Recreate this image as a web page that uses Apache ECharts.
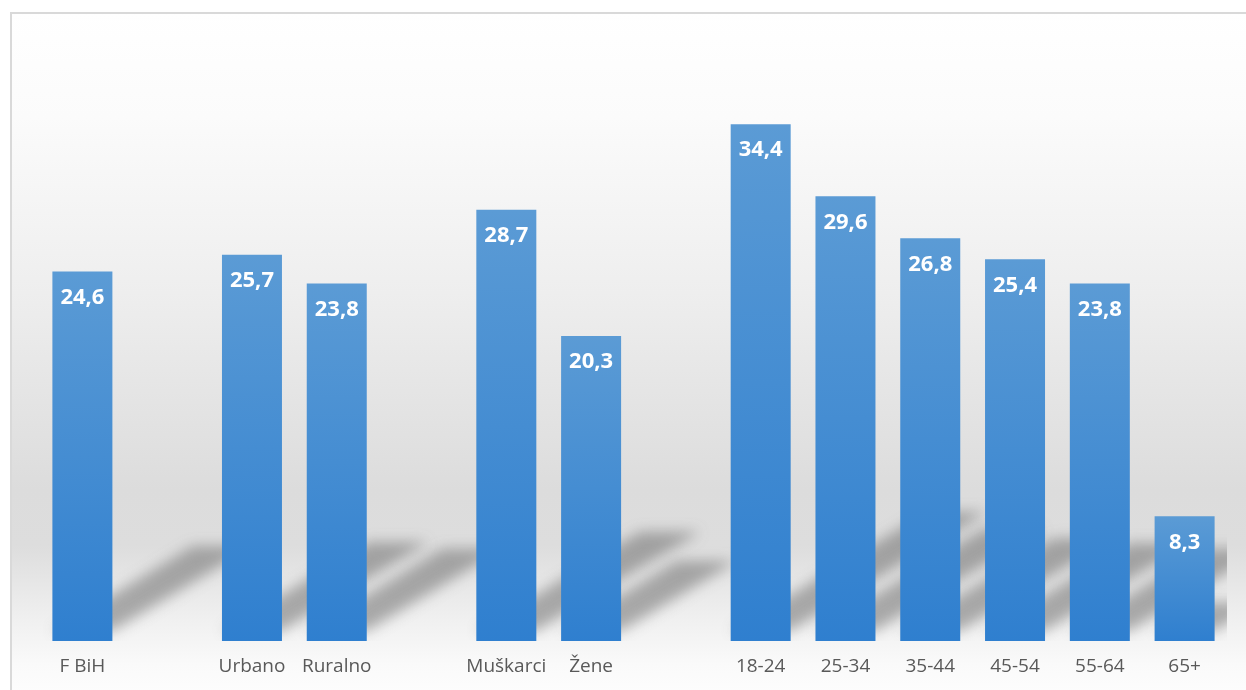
<!DOCTYPE html>
<html>
<head>
<meta charset="utf-8">
<script src="https://cdn.jsdelivr.net/npm/echarts@6/dist/echarts.min.js"></script>
<style>
html,body{margin:0;padding:0;background:#fff;}
#chart{width:1246px;height:690px;}
</style>
</head>
<body>
<div id="chart"></div>
<script>
const categories = ['F BiH', '', 'Urbano', 'Ruralno', '', 'Muškarci', 'Žene', '', '18-24', '25-34', '35-44', '45-54', '55-64', '65+'];
const values = [24.6, '-', 25.7, 23.8, '-', 28.7, 20.3, '-', 34.4, 29.6, 26.8, 25.4, 23.8, 8.3];

const chart = echarts.init(document.getElementById('chart'), null, {renderer: 'canvas'});

const shadowData = values.map((v, i) => v === '-' ? null : [i, v]).filter(d => d);
const OFF = 3000;

const option = {
  animation: false,
  graphic: [
    {
      type: 'rect', left: 10, top: 12, z: -10,
      shape: {width: 1250, height: 700},
      style: {
        fill: new echarts.graphic.LinearGradient(0, 0, 0, 1, [
          {offset: 0, color: '#ffffff'},
          {offset: 0.15, color: '#fbfbfb'},
          {offset: 0.4, color: '#eeeeee'},
          {offset: 0.68, color: '#dcdcdc'},
          {offset: 0.76, color: '#dddddd'},
          {offset: 0.86, color: '#efefef'},
          {offset: 0.93, color: '#fafafa'},
          {offset: 1, color: '#ffffff'}
        ]),
        stroke: '#d9d9d9', lineWidth: 2
      }
    }
  ],
  grid: {left: 40, right: 19, top: 40, bottom: 49, containLabel: false},
  xAxis: {
    type: 'category',
    data: categories,
    axisLine: {show: false},
    axisTick: {show: false},
    axisLabel: {
      interval: 0, margin: 16, color: '#595959',
      fontFamily: 'Open Sans', fontSize: 19
    }
  },
  yAxis: {
    type: 'value', min: 0, max: 40,
    show: false,
    splitLine: {show: false}
  },
  series: [
    {
      type: 'custom',
      clip: true,
      z: 1,
      silent: true,
      data: shadowData,
      renderItem: function (params, api) {
        const base = api.coord([api.value(0), 0]);
        const top = api.coord([api.value(0), api.value(1)]);
        const h = base[1] - top[1];
        const x0 = base[0] - 30 - OFF, x1 = base[0] + 30 - OFF;
        const dx = 0.38 * h, dy = 0.23 * h;
        const y0 = base[1] - 10;
        return {
          type: 'polygon',
          shape: {points: [[x0, y0], [x1, y0], [x1 + dx, y0 - dy], [x0 + dx, y0 - dy]]},
          style: {
            fill: '#888888',
            shadowBlur: 14,
            shadowOffsetX: OFF,
            shadowColor: 'rgba(110,110,110,0.55)'
          }
        };
      }
    },
    {
      type: 'bar',
      z: 2,
      data: values,
      barWidth: 60,
      itemStyle: {
        color: new echarts.graphic.LinearGradient(0, 0, 0, 1, [
          {offset: 0, color: '#5b9bd5'},
          {offset: 1, color: '#2f7fcf'}
        ])
      },
      label: {
        show: true,
        position: 'insideTop',
        distance: 15,
        color: '#ffffff',
        fontFamily: 'Open Sans',
        fontWeight: 'bold',
        fontSize: 22,
        formatter: function (p) { return String(p.value).replace('.', ','); }
      }
    }
  ]
};
chart.setOption(option);
</script>
</body>
</html>
